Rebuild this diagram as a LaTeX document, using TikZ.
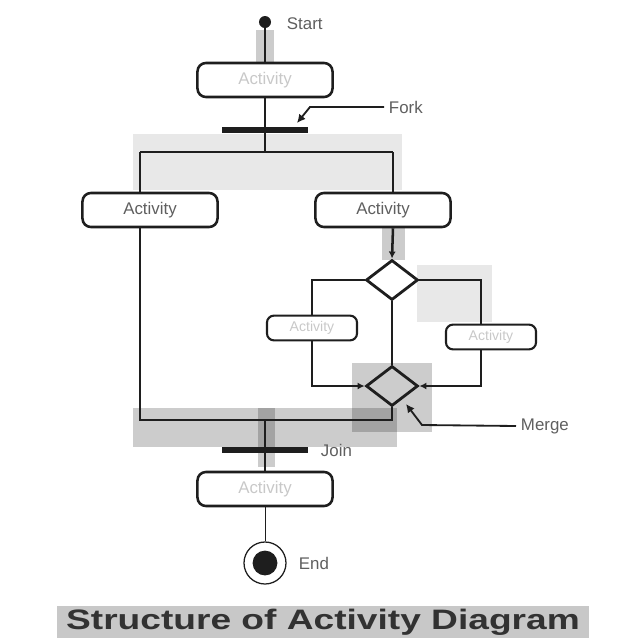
\documentclass[tikz,border=0pt]{standalone}
\usepackage{fontspec}
\setmainfont{Liberation Sans}
\usetikzlibrary{
    arrows.meta,
    positioning,
    shapes.geometric
}
\definecolor{inkDark}{RGB}{30,30,30}
\definecolor{labelGray}{RGB}{95,95,95}
\definecolor{faintGray}{RGB}{200,200,200}
\definecolor{titleBack}{RGB}{200,200,200}
\definecolor{titleInk}{RGB}{50,50,50}
\tikzset{
  act/.style     = {draw=inkDark, line width=1.8pt, rounded corners=6pt,
                    minimum width=3.375cm, minimum height=0.85cm,
                    font=\fontsize{12}{14}\selectfont},
  sact/.style    = {draw=inkDark, line width=1.5pt, rounded corners=5pt,
                    minimum width=2.25cm, minimum height=0.62cm,
                    font=\fontsize{10}{12}\selectfont, text=faintGray},
  bar/.style     = {fill=inkDark, inner sep=0pt, minimum width=2.15cm,
                    minimum height=0.13cm},
  decide/.style  = {draw=inkDark, diamond, line width=2pt, inner sep=0pt,
                    minimum width=1.3cm, minimum height=1.0cm},
  lbl/.style     = {text=labelGray, font=\fontsize{12}{14}\selectfont, anchor=west},
  flow/.style    = {draw=inkDark, line width=1.8pt},
  arr/.style     = {flow, -{Latex[length=5pt,width=5pt]}},
  shade/.style   = {fill=black, fill opacity=0.09, draw=none},
  dshade/.style  = {fill=black, fill opacity=0.2, draw=none}
}

\begin{document}
\begin{tikzpicture}[x=0.025cm, y=-0.025cm]
\useasboundingbox (0,0) rectangle (640,640);
% scan shading behind the lines
\fill[shade] (133,134) rectangle (402,190);
\fill[shade] (417,265) rectangle (492,322);
\fill[dshade] (256,30) rectangle (274,62);
\fill[dshade] (382,228) rectangle (405,260);
\fill[dshade] (352,363) rectangle (432,432);
\fill[dshade] (133,408) rectangle (397,447);
\fill[dshade] (258,408) rectangle (275,467);

% nodes
\node[circle, fill=inkDark, inner sep=0pt, minimum size=0.3cm] (start) at (265,22) {};
\node[lbl] (startlbl) at (282,24) {Start};
\node[act, text=faintGray] (act1) at (265,80) {Activity};
\node[bar] (fork) at (265,130) {};
\node[lbl] (forklbl) at (384,107) {Fork};
\node[act, text=labelGray] (actL) at (150,210) {Activity};
\node[act, text=labelGray] (actR) at (383,210) {Activity};
\node[decide] (d1) at (392,280) {};
\node[sact] (actL2) at (312,328) {Activity};
\node[sact] (actR2) at (491,337) {Activity};
\node[decide] (d2) at (392,386) {};
\node[lbl] (mergelbl) at (516,426) {Merge};
\node[bar] (join) at (265,450) {};
\node[lbl] (joinlbl) at (316,450) {Join};
\node[act, text=faintGray] (actB) at (265,489) {Activity};
\node[circle, draw=inkDark, line width=0.9pt, minimum size=1.05cm] (endo) at (265,563) {};
\node[circle, fill=inkDark, minimum size=0.62cm, inner sep=0pt] (endi) at (265,563) {};
\node[lbl] (endlbl) at (294,563) {End};

% helper points
\coordinate (fL) at (140,152);
\coordinate (fM) at (265,152);
\coordinate (fR) at (393,152);
\coordinate (rline) at (481,0);
\coordinate (jL) at (140,420);
\coordinate (jM) at (265,420);
\coordinate (jR) at (392,420);
\coordinate (fk) at (310,107);
\coordinate (fktip) at (297,123);
\coordinate (mg) at (422,425);
\coordinate (mgtip) at (406,404);

% connectors
\draw[flow] (start) -- (act1);
\draw[flow] (act1) -- (fork);
\draw[flow] (fork) -- (fM);
\draw[flow] (fL) -- (fR);
\draw[flow] (fL) -- (fL |- actL.north);
\draw[flow] (fR) -- (fR |- actR.north);
\draw[arr] (actR.south -| fR) -- (d1.north);
\draw[flow] (d1.west) -| (actL2.north);
\draw[arr] (actL2.south) |- (d2.west);
\draw[flow] (d1.east) -| (rline |- actR2.north);
\draw[arr] (rline |- actR2.south) |- (d2.east);
\draw[flow] (d1.south) -- (d2.north);
\draw[flow] (actL.south -| jL) -- (jL) -- (jR) -- (d2.south);
\draw[flow] (jM) -- (join);
\draw[flow] (join) -- (actB);
\draw[draw=inkDark, line width=0.6pt] (actB) -- (endo);
\draw[flow, line width=1.3pt, -{Latex[length=6pt,width=6pt]}] (forklbl.west) -- (fk) -- (fktip);
\draw[flow, line width=1.3pt, -{Latex[length=6pt,width=6pt]}] (mergelbl.west) -- (mg) -- (mgtip);

% caption
\node[fill=titleBack, minimum width=13.3cm, minimum height=0.82cm, inner sep=0pt] (titlebox) at (323,622)
  {\scalebox{1.32}[1]{\fontsize{20}{22}\selectfont\bfseries\color{titleInk}Structure of Activity Diagram}};
\end{tikzpicture}
\end{document}
